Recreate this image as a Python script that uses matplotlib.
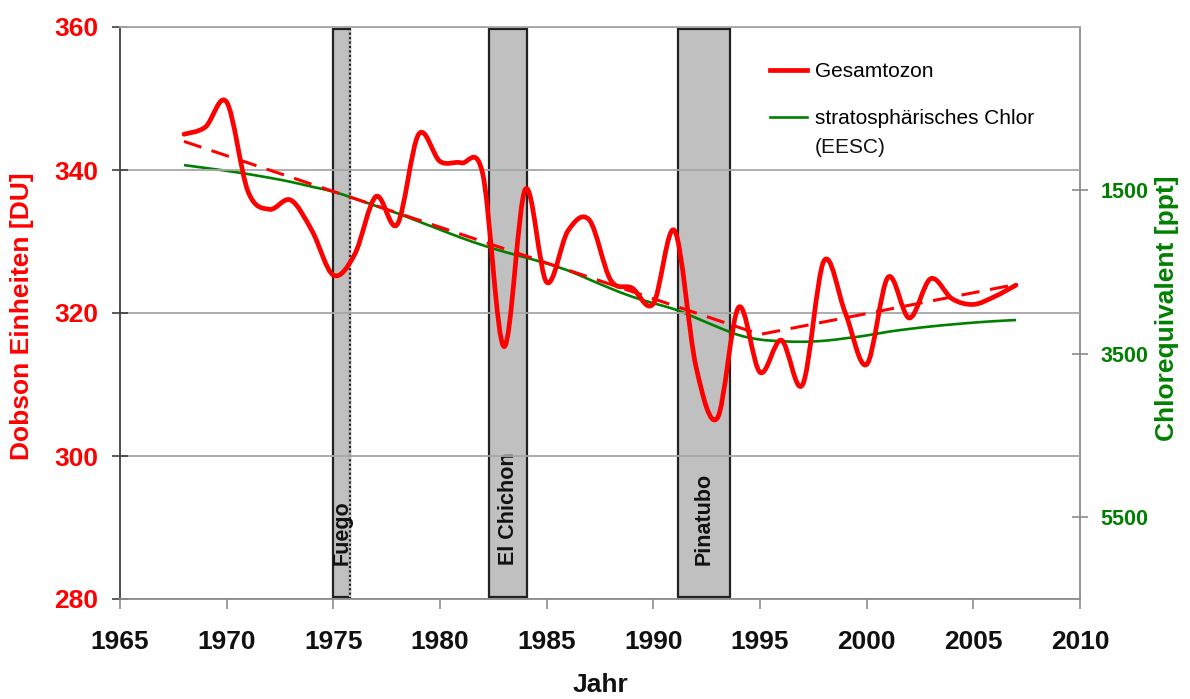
import numpy as np
import matplotlib
matplotlib.use("Agg")
from matplotlib import pyplot as plt
from matplotlib.path import Path
from matplotlib.patches import PathPatch
from matplotlib.lines import Line2D

plt.rcParams['font.family'] = ['Liberation Sans', 'DejaVu Sans']

# Daten
jahre = np.arange(1968, 2008)
ozon = [345.0, 346.0, 349.5, 337.0, 334.5, 335.8, 331.5, 325.3, 328.2, 336.3,
        332.4, 345.0, 341.2, 341.0, 339.5, 315.3, 337.3, 324.3, 331.5, 333.0,
        324.6, 323.5, 321.3, 331.5, 312.5, 305.3, 320.8, 311.7, 316.2, 310.0,
        327.3, 320.0, 312.8, 325.0, 319.3, 324.8, 322.0, 321.2, 322.3, 323.9]
eesc = [1190, 1225, 1260, 1300, 1345, 1395, 1455, 1515, 1600, 1690,
        1780, 1880, 1980, 2080, 2170, 2250, 2320, 2395, 2480, 2590,
        2700, 2800, 2880, 2955, 3060, 3170, 3270, 3325, 3345, 3352,
        3340, 3310, 3275, 3230, 3195, 3165, 3140, 3118, 3100, 3086]
trend_jahre = [1968, 1995, 2007]
trend_werte = [344.0, 317.0, 324.0]

vulkane = ['Fuego', 'El Chichon', 'Pinatubo']
vulkan_start = [1975.0, 1982.3, 1991.15]
vulkan_ende = [1975.8, 1984.1, 1993.6]

rot = '#ff0000'
gruen = '#008000'


# geglaettete Linie wie in Excel (Bezier durch die Jahreswerte)
def glatte_linie(x, y):
    x = list(x)
    y = list(y)
    n = len(x)
    verts = [(x[0], y[0])]
    codes = [Path.MOVETO]
    for i in range(n - 1):
        xa, ya = (x[i - 1], y[i - 1]) if i > 0 else (x[i], y[i])
        xb, yb = (x[i + 2], y[i + 2]) if i + 2 < n else (x[i + 1], y[i + 1])
        c1 = (x[i] + (x[i + 1] - xa) / 6, y[i] + (y[i + 1] - ya) / 6)
        c2 = (x[i + 1] - (xb - x[i]) / 6, y[i + 1] - (yb - y[i]) / 6)
        verts += [c1, c2, (x[i + 1], y[i + 1])]
        codes += [Path.CURVE4] * 3
    return Path(verts, codes)


fig = plt.figure(figsize=(11.9, 6.99), dpi=100)
ax = fig.add_axes([120 / 1190, 1 - 599 / 699, 960 / 1190, 572 / 699])
ax2 = ax.twinx()
ax.set_zorder(2)
ax2.set_zorder(1)
ax.patch.set_visible(False)

# Vulkan-Balken
for name, a, b in zip(vulkane, vulkan_start, vulkan_ende):
    ax2.axvspan(a, b, ymin=0.004, ymax=0.996, facecolor='#c0c0c0',
                edgecolor='#222222', lw=1.6, zorder=1)
    ax2.text((a + b) / 2, 0.059, name, rotation=90, ha='center', va='bottom',
             fontsize=15.5, fontweight='bold', color='#111111',
             transform=ax2.get_xaxis_transform(), zorder=2)
# rechte Kante bei Fuego gepunktet
ax2.axvline(vulkan_ende[0], ymin=0.004, ymax=0.996, color='#c8c8c8', lw=1.6,
            dashes=(1, 1), zorder=1.5)

# Chlor (rechte Achse)
ax2.add_patch(PathPatch(glatte_linie(jahre, eesc), fill=False, edgecolor=gruen,
                        lw=1.9, zorder=3))
ax2.set_ylim(6500, -500)
ax2.set_yticks([1500, 3500, 5500])
ax2.set_yticklabels(['1500', '3500', '5500'])

# Ozon (linke Achse)
ax.add_patch(PathPatch(glatte_linie(jahre, ozon), fill=False, edgecolor=rot,
                       lw=3.4, zorder=4, capstyle='round', joinstyle='round'))
ax.plot(trend_jahre, trend_werte, color=rot, lw=2.2, dashes=(6, 3.5), zorder=3)

ax.set_xlim(1965, 2010)
ax.set_ylim(280, 360)
ax.set_xticks(range(1965, 2011, 5))
ax.set_yticks(range(280, 361, 20))
ax.grid(axis='y', color='#a6a6a6', lw=1.3)
ax.grid(axis='x', visible=False)

ax.spines['right'].set_visible(False)
ax.spines['top'].set_color('#a6a6a6')
ax.spines['top'].set_linewidth(1.3)
ax.spines['left'].set_color('#404040')
ax.spines['left'].set_linewidth(1.3)
ax.spines['bottom'].set_color('#8c8c8c')
ax.spines['bottom'].set_linewidth(1.3)
for s in ['left', 'top', 'bottom']:
    ax2.spines[s].set_visible(False)
ax2.spines['right'].set_color('#8c8c8c')
ax2.spines['right'].set_linewidth(1.3)

ax.tick_params(axis='y', direction='inout', length=11, width=1.2, color='#404040',
               labelsize=19, labelcolor=rot, pad=10)
ax.tick_params(axis='x', direction='out', length=7, width=1.2, color='#8c8c8c',
               labelsize=19, labelcolor='#111111', pad=15)
ax2.tick_params(axis='y', direction='inout', length=11, width=1.2, color='#8c8c8c',
                labelsize=15.5, labelcolor=gruen, pad=9)
for lab in ax.get_xticklabels() + ax.get_yticklabels() + ax2.get_yticklabels():
    lab.set_fontweight('bold')

fig.text(22 / 1190, 1 - 316 / 699, 'Dobson Einheiten [DU]', rotation=90,
         ha='center', va='center', fontsize=19, fontweight='bold', color=rot)
fig.text(1167 / 1190, 1 - 308 / 699, 'Chlorequivalent [ppt]', rotation=90,
         ha='center', va='center', fontsize=19, fontweight='bold', color=gruen)
fig.text(600 / 1190, 0.003, 'Jahr', ha='center', va='bottom',
         fontsize=19, fontweight='bold', color='#111111')

# Legende
h_ozon = Line2D([], [], color=rot, lw=3.4)
h_chlor = Line2D([], [], color=gruen, lw=1.9)
ax.legend([h_ozon, h_chlor], ['Gesamtozon', 'stratosphärisches Chlor'],
          loc='upper left', bbox_to_anchor=(0.677, 0.939), frameon=False,
          fontsize=15, handlelength=1.8, handletextpad=0.35, labelspacing=1.34,
          borderpad=0, borderaxespad=0)
ax.text(0.724, 0.790, '(EESC)', transform=ax.transAxes, ha='left', va='center',
        fontsize=15, color='#111111')

fig.savefig('out.png', dpi=100)
